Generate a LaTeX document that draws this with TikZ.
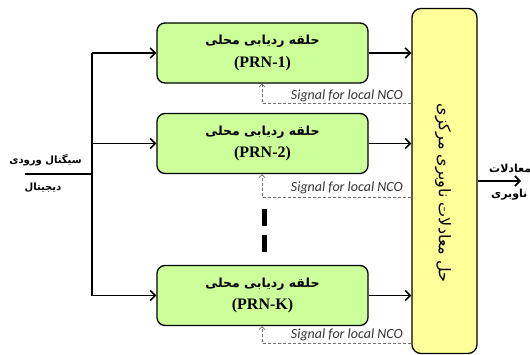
\documentclass[tikz,border=0pt]{standalone}
\usepackage{fontspec}
\setmainfont{Liberation Serif}
\newfontfamily\fa[Script=Arabic]{DejaVu Sans}
\newfontfamily\lat{Carlito}
\TeXXeTstate=1
\usetikzlibrary{arrows.meta}
\definecolor{greenfill}{HTML}{CCFF99}
\definecolor{yellowfill}{HTML}{FFFF99}
\definecolor{dashgray}{HTML}{707070}
\definecolor{txtgray}{HTML}{333333}
\newcommand\myfatxt{\fa\bfseries\fontsize{12.5}{14}\selectfont}
\newcommand\myprn{\bfseries\fontsize{16}{17}\selectfont}
\begin{document}
\begin{tikzpicture}[x=1pt,y=-1pt,
  gbox/.style={draw, line width=1.3pt, rounded corners=8pt, fill=greenfill,
    minimum width=211pt, minimum height=60pt, inner sep=0pt, align=center},
  ybox/.style={draw, line width=1.3pt, rounded corners=9pt, fill=yellowfill,
    minimum width=65pt, minimum height=345pt, inner sep=0pt},
  arr/.style={line width=1.6pt, -{Straight Barb[length=5pt,width=10pt]}},
  wire/.style={line width=1.6pt},
  dsh/.style={draw=dashgray, line width=0.6pt, dash pattern=on 3pt off 2pt,
    -{Straight Barb[length=3pt,width=6pt]}},
  sig/.style={text=txtgray, font=\lat\itshape\fontsize{14}{15}\selectfont, anchor=base east, inner sep=0pt},
  lbl/.style={font=\fa\bfseries\fontsize{10}{12}\selectfont, inner sep=0pt},
  dotbar/.style={fill=black, minimum width=5pt, minimum height=17pt, inner sep=0pt}
]
\useasboundingbox (0,0) rectangle (530,354);

% boxes
\node[gbox] (b1) at (262.5,53) {{\myfatxt\beginR حلقه ردیابی محلی\endR}\\[7pt]{\myprn (PRN-1)}};
\node[gbox] (b2) at (262.5,143.5) {{\myfatxt\beginR حلقه ردیابی محلی\endR}\\[7pt]{\myprn (PRN-2)}};
\node[gbox] (bK) at (262.5,295.5) {{\myfatxt\beginR حلقه ردیابی محلی\endR}\\[7pt]{\myprn (PRN-K)}};
\node[ybox] (Y) at (444.5,181) {};
\node[rotate=-90, font=\fa\fontsize{16}{18}\selectfont] (yt) at (443,193) {\beginR حل معادلات ناوبری مرکزی\endR};

% vertical ellipsis
\node[dotbar] (e1) at (264.5,217.5) {};
\node[dotbar] (e2) at (264.5,243.5) {};

% input
\coordinate (in) at (25,174);
\coordinate (j) at (92,174);
\draw[wire] (in) -- (j);
\draw[wire] (j |- b1.west) -- (j |- bK.west);
\draw[arr] (j |- b1.west) -- (b1.west);
\draw[arr] (j |- b2.west) -- (b2.west);
\draw[arr] (j |- bK.west) -- (bK.west);
\node[lbl] (l1) at (45.5,160) {\beginR سیگنال ورودی\endR};
\node[lbl] (l2) at (43,188) {\beginR دیجیتال\endR};

% to central box
\draw[arr] (b1.east) -- (b1.east -| Y.west);
\draw[arr] (b2.east) -- (b2.east -| Y.west);
\draw[arr] (bK.east) -- (bK.east -| Y.west);

% feedback dashed
\coordinate (d1) at (262,103);
\coordinate (d2) at (262,197);
\coordinate (d3) at (262,343);
\draw[dsh] (d1 -| Y.west) -- (d1) -- (d1 |- b1.south);
\draw[dsh] (d2 -| Y.west) -- (d2) -- (d2 |- b2.south);
\draw[dsh] (d3 -| Y.west) -- (d3) -- (d3 |- bK.south);
\node[sig] (s1) at (403,99) {Signal for local NCO};
\node[sig] (s2) at (403,191) {Signal for local NCO};
\node[sig] (s3) at (403,338) {Signal for local NCO};

% output
\coordinate (o) at (521,181);
\draw[arr] (Y.east |- o) -- (o);
\node[lbl, font=\fa\bfseries\fontsize{11}{12}\selectfont, anchor=west] (r1) at (489,168) {\beginR معادلات\endR};
\node[lbl, font=\fa\bfseries\fontsize{11}{12}\selectfont, anchor=west] (r2) at (491,195) {\beginR ناوبری\endR};
\end{tikzpicture}
\end{document}
